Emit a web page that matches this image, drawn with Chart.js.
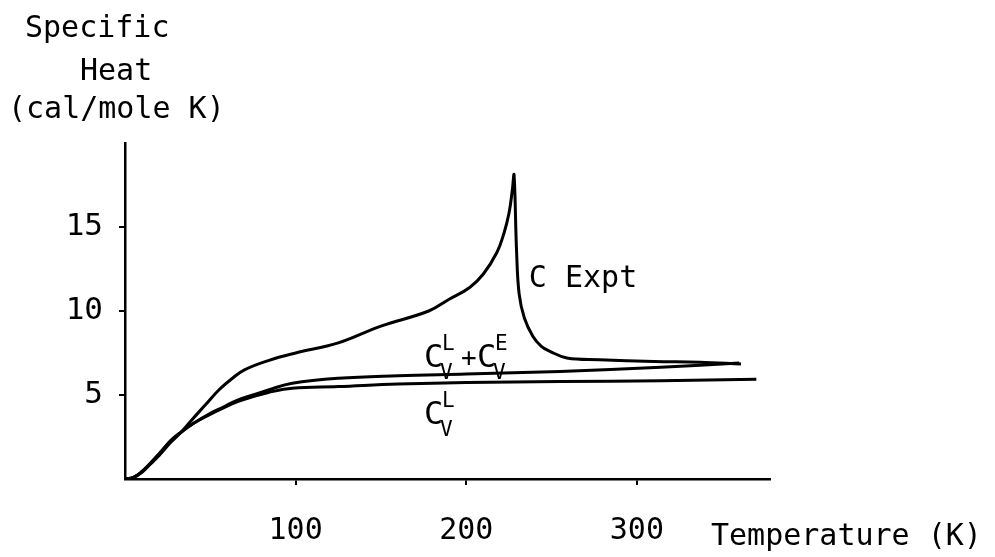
<!DOCTYPE html>
<html>
<head>
<meta charset="utf-8">
<script src="https://cdn.jsdelivr.net/npm/chart.js@4.4.1/dist/chart.umd.min.js"></script>
<style>
  html, body { margin: 0; padding: 0; background: #fff; }
</style>
</head>
<body>
<canvas id="myChart" width="995" height="557"></canvas>
<script>
// calor especifico experimental (K, cal/mole K)
const tempExpt = [0, 5, 10, 15, 20, 27, 33, 39, 47, 55, 63, 70, 84, 100, 125, 150, 178, 190, 202, 210, 218, 222, 225, 227, 228, 229.5, 231, 234, 239, 244, 249, 259, 278, 310, 337, 361];
const calorExpt = [0, 0.1, 0.4, 0.9, 1.4, 2.2, 2.8, 3.5, 4.4, 5.3, 6.0, 6.5, 7.05, 7.5, 8.1, 9.1, 10.0, 10.7, 11.4, 12.2, 13.5, 14.6, 15.8, 17.2, 18.1, 13.5, 11.0, 9.6, 8.5, 7.9, 7.6, 7.2, 7.1, 7.0, 6.95, 6.85];
// Cv red + electronico
const tempLE = [0, 5, 10, 15, 20, 27, 33, 40, 49, 58, 66, 75, 84, 98, 125, 160, 200, 255, 314, 360];
const calorLE = [0, 0.1, 0.45, 0.95, 1.5, 2.3, 2.8, 3.3, 3.85, 4.3, 4.7, 5.0, 5.3, 5.7, 6.0, 6.15, 6.25, 6.4, 6.65, 6.9];
// Cv red
const tempL = [0, 5, 10, 15, 20, 27, 33, 40, 49, 58, 66, 75, 84, 98, 125, 160, 200, 255, 314, 370];
const calorL = [0, 0.1, 0.45, 0.95, 1.5, 2.3, 2.8, 3.3, 3.8, 4.25, 4.6, 4.9, 5.15, 5.4, 5.5, 5.65, 5.75, 5.8, 5.85, 5.94];

const ticksX = [100, 200, 300];
const ticksY = [5, 10, 15];
const fuente = "'DejaVu Sans Mono', 'Liberation Mono', monospace";

function puntos(xs, ys) {
    return xs.map((x, i) => ({ x: x, y: ys[i] }));
}

function serie(xs, ys) {
    return {
        data: puntos(xs, ys),
        borderColor: '#000',
        borderWidth: 3,
        pointRadius: 0,
        fill: false,
        tension: 0.4
    };
}

// dibuja C con superindice y subindice V
function cv(ctx, x, y, sup) {
    ctx.font = `32px ${fuente}`;
    ctx.fillText('C', x - 3, y);
    ctx.font = `21px ${fuente}`;
    ctx.fillText(sup, x + 15, y - 17);
    ctx.fillText('V', x + 13, y + 12);
}

const textos = {
    id: 'textos',
    afterDraw(chart) {
        const ctx = chart.ctx;
        const xs = chart.scales.x;
        const ys = chart.scales.y;
        ctx.save();
        ctx.fillStyle = '#000';
        ctx.textAlign = 'left';
        ctx.textBaseline = 'alphabetic';
        ctx.font = `30px ${fuente}`;
        ctx.fillText('Specific', 25, 37);
        ctx.fillText('Heat', 80, 80);
        ctx.fillText('(cal/mole K)', 8, 118);
        ctx.fillText('Temperature (K)', 711, 545);

        // C Expt
        let px = xs.getPixelForValue(239);
        let py = ys.getPixelForValue(11.4);
        ctx.fillText('C Expt', px - 4, py);

        // Cv(L) + Cv(E)
        px = xs.getPixelForValue(177);
        py = ys.getPixelForValue(6.67);
        cv(ctx, px, py, 'L');
        ctx.font = `26px ${fuente}`;
        ctx.fillText('+', px + 34, py - 1);
        cv(ctx, px + 53, py, 'E');

        // Cv(L)
        px = xs.getPixelForValue(177);
        py = ys.getPixelForValue(3.25);
        cv(ctx, px, py, 'L');
        ctx.restore();
    }
};

const config = {
    type: 'line',
    data: {
        datasets: [
            serie(tempExpt, calorExpt),
            serie(tempLE, calorLE),
            serie(tempL, calorL)
        ]
    },
    options: {
        responsive: false,
        animation: false,
        events: [],
        layout: { padding: { top: 143, right: 225, left: 0, bottom: 0 } },
        plugins: {
            legend: { display: false },
            tooltip: { enabled: false }
        },
        scales: {
            x: {
                type: 'linear',
                min: 0,
                max: 378,
                afterBuildTicks: (scale) => { scale.ticks = ticksX.map(v => ({ value: v })); },
                afterFit: (scale) => { scale.height = 78; },
                border: { display: true, color: '#000', width: 2.5 },
                grid: { drawOnChartArea: false, drawTicks: true, tickLength: 6, color: '#000', lineWidth: 2 },
                ticks: {
                    color: '#000',
                    padding: 28,
                    autoSkip: false,
                    maxRotation: 0,
                    font: { family: fuente, size: 30 }
                }
            },
            y: {
                min: 0,
                max: 20,
                afterBuildTicks: (scale) => { scale.ticks = ticksY.map(v => ({ value: v })); },
                afterFit: (scale) => { scale.width = 125; },
                border: { display: true, color: '#000', width: 2.5 },
                grid: { drawOnChartArea: false, drawTicks: true, tickLength: 6, color: '#000', lineWidth: 2 },
                ticks: {
                    color: '#000',
                    padding: 16,
                    autoSkip: false,
                    font: { family: fuente, size: 31 }
                }
            }
        }
    },
    plugins: [textos]
};

const myChart = new Chart(document.getElementById('myChart'), config);
</script>
</body>
</html>
